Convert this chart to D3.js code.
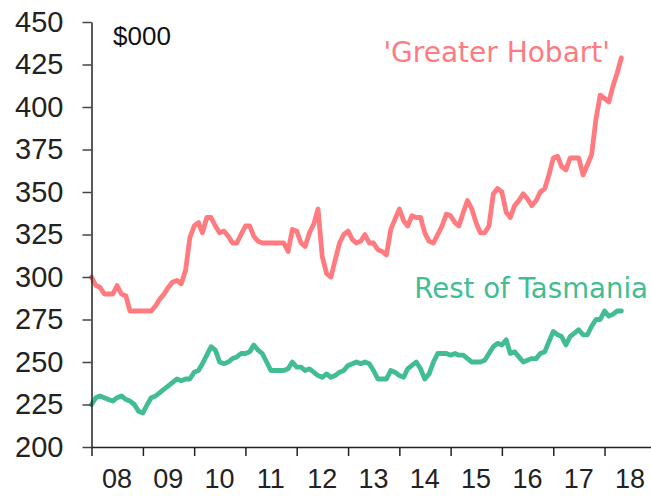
<!DOCTYPE html>
<html>
<head>
<meta charset="utf-8">
<script src="https://cdn.jsdelivr.net/npm/d3@7"></script>
<style>
  html, body { margin: 0; padding: 0; background: #fff; }
  svg { display: block; }
</style>
</head>
<body>
<svg id="chart" width="651" height="496"></svg>
<script>
// Monthly series starting Jan 2008 ($000)
const startYear = 2008;
const hobart = [
  300,295,294,290,290,290,295,290,289,280,280,280,
  280,280,280,283,287,290,294,297,298,296,304,323,
  330,332,326,335,335,330,326,327,324,320,320,325,
  330,330,324,321,320,320,320,320,320,320,315,328,
  327,320,318,326,331,340,312,302,300,310,320,325,
  327,322,320,321,325,320,320,316,315,313,328,334,
  340,333,330,336,335,335,326,321,320,325,330,337,
  336,332,330,338,345,340,332,326,326,330,349,352,
  350,338,335,342,345,349,346,342,345,350,352,360,
  370,371,365,363,370,370,370,360,366,372,393,407,
  405,403,412,420,429
];
const restTas = [
  225,229,230,229,228,227,229,230,228,227,225,221,
  220,225,229,230,232,234,236,238,240,239,240,240,
  244,245,249,254,259,257,250,249,250,252,253,255,
  255,256,260,257,255,250,245,245,245,245,246,250,
  247,247,245,246,244,242,241,243,241,242,244,245,
  248,249,250,249,250,249,245,240,240,240,245,244,
  242,241,246,248,250,246,240,243,250,255,255,255,
  254,255,254,254,252,250,250,250,251,255,259,261,
  260,263,255,256,253,250,251,252,252,255,256,262,
  268,266,265,260,265,267,269,266,266,271,275,275,
  280,277,278,280,280
];
const yTicks = [200,225,250,275,300,325,350,375,400,425,450];
const xTickLabels = ["08","09","10","11","12","13","14","15","16","17","18"];
const seriesNames = ["'Greater Hobart'", "Rest of Tasmania"];
const colors = ["#ff7b7f", "#42bd93"];

const svg = d3.select("#chart");
const x = d3.scaleTime()
  .domain([new Date(2008, 0, 1), new Date(2019, 0, 1)])
  .range([91.5, 655.8]);
const y = d3.scaleLinear().domain([200, 450]).range([447, 22]);

const toPoints = arr => arr.map((v, i) => ({ date: new Date(startYear, i, 1), value: v }));

const line = d3.line()
  .x(d => x(d.date))
  .y(d => y(d.value))
  .curve(d3.curveLinear);

// Lines
[hobart, restTas].forEach((s, k) => {
  svg.append("path")
    .datum(toPoints(s))
    .attr("fill", "none")
    .attr("stroke", colors[k])
    .attr("stroke-width", 4.8)
    .attr("stroke-linejoin", "round")
    .attr("stroke-linecap", "round")
    .attr("d", line);
});

// Y axis
const yAxis = d3.axisLeft(y).tickValues(yTicks).tickSize(9).tickSizeOuter(0).tickPadding(19);
const gy = svg.append("g").attr("transform", "translate(91.5,0)").call(yAxis);
gy.select(".domain").attr("stroke", "#222").attr("stroke-width", 1.5);
gy.selectAll(".tick line").attr("stroke", "#444").attr("stroke-width", 1.5);
gy.selectAll(".tick text")
  .attr("font-family", "'Liberation Sans', Arial, sans-serif")
  .attr("font-size", 29)
  .attr("fill", "#222");

// X axis (ticks at year boundaries)
const yearStarts = xTickLabels.map((_, i) => new Date(startYear + i, 0, 1));
const xAxis = d3.axisBottom(x).tickValues(yearStarts).tickSize(9).tickSizeOuter(0).tickFormat("");
const gx = svg.append("g").attr("transform", "translate(0,447)").call(xAxis);
gx.select(".domain").attr("stroke", "#222").attr("stroke-width", 1.5);
gx.selectAll(".tick line").attr("stroke", "#222").attr("stroke-width", 1.5);

// X labels centred mid-year
svg.append("g").selectAll("text")
  .data(xTickLabels)
  .join("text")
  .attr("x", (d, i) => x(new Date(startYear + i, 6, 1)))
  .attr("y", 488)
  .attr("text-anchor", "middle")
  .attr("font-family", "'Liberation Sans', Arial, sans-serif")
  .attr("font-size", 27)
  .attr("fill", "#222")
  .text(d => d);

// Unit label
svg.append("text")
  .attr("x", 113).attr("y", 45)
  .attr("font-family", "'Liberation Sans', Arial, sans-serif")
  .attr("font-size", 26)
  .attr("fill", "#111")
  .text("$000");

// Series labels
svg.append("text")
  .attr("x", 610).attr("y", 62)
  .attr("text-anchor", "end")
  .attr("font-family", "'DejaVu Sans', sans-serif")
  .attr("font-size", 28)
  .attr("fill", colors[0])
  .text(seriesNames[0]);

svg.append("text")
  .attr("x", 648).attr("y", 298)
  .attr("text-anchor", "end")
  .attr("font-family", "'DejaVu Sans', sans-serif")
  .attr("font-size", 27.6)
  .attr("fill", colors[1])
  .text(seriesNames[1]);
</script>
</body>
</html>
